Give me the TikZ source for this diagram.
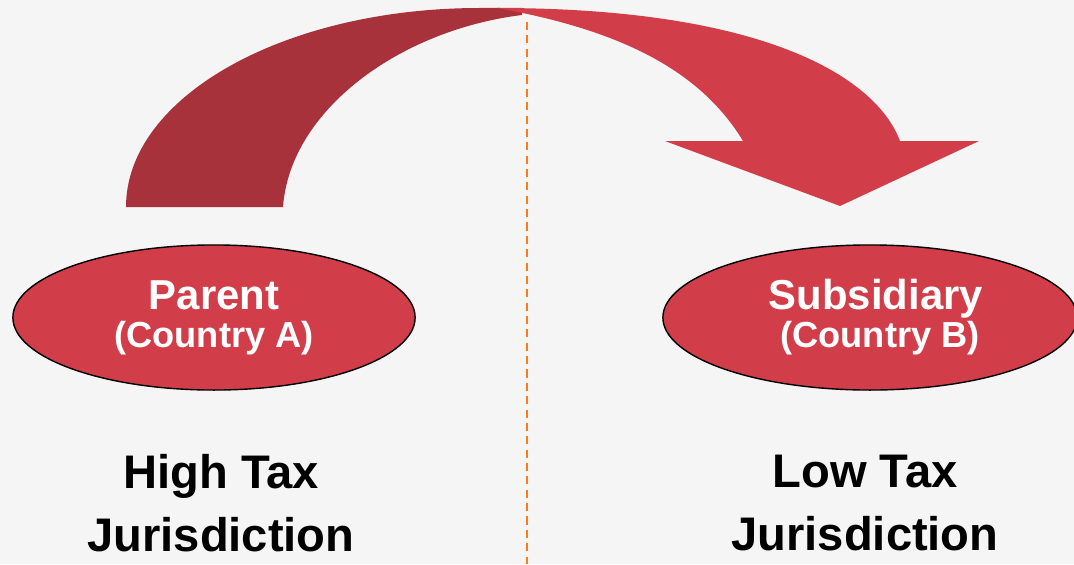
\documentclass[tikz,border=0pt]{standalone}
\usepackage{fontspec}
\setmainfont{Liberation Sans}
\usetikzlibrary{shapes.geometric}
\definecolor{arrowdark}{RGB}{168,50,60}
\definecolor{arrowlight}{RGB}{209,62,74}
\definecolor{borderline}{RGB}{255,122,30}
\definecolor{backgray}{RGB}{245,245,245}

\begin{document}
\begin{tikzpicture}[x=0.01cm, y=-0.01cm,
  company/.style={ellipse, draw=black, line width=0.4pt, fill=arrowlight, text=white, minimum width=4.02cm, minimum height=1.45cm, align=center, inner sep=0pt, font=\bfseries\fontsize{11.9}{10.8}\selectfont},
  taxzone/.style={align=center, text=black, font=\bfseries\fontsize{13.4}{17.9}\selectfont}]
\useasboundingbox (0,0) rectangle (1074,564);
\fill [backgray] (0,0) rectangle (1074,564);

% curved arrow from parent to subsidiary
\fill [arrowdark] (126,207) .. controls (126,97) and (284,8) .. (480,8) -- (522,8) -- (522,15) .. controls (400,30) and (290,110) .. (283,207) -- cycle;
\fill [arrowlight] (497,8) .. controls (760,8) and (875,75) .. (900,141) -- (979,141) -- (840,206) -- (665,141) -- (743,141) .. controls (700,70) and (620,30) .. (497,8) -- cycle;

% border between the two countries
\coordinate (bordertop) at (527,22);
\coordinate (borderbottom) at (527,564);
\draw [borderline, line width=0.6pt, dash pattern=on 2.3pt off 1.5pt] (bordertop) -- (borderbottom);

\node [company] (parent) at (214,317.5) {Parent\\{\fontsize{10.3}{10.8}\selectfont (Country A)}};
\node [company, minimum width=4.14cm] (subsidiary) at (870,317.5) {\ Subsidiary\\{\fontsize{10.3}{10.8}\selectfont \ \ (Country B)}};

\node [taxzone] (hightax) at (221,503) {High Tax\\Jurisdiction};
\node [taxzone] (lowtax) at (865,503) {Low Tax\\Jurisdiction};

\end{tikzpicture}
\end{document}
